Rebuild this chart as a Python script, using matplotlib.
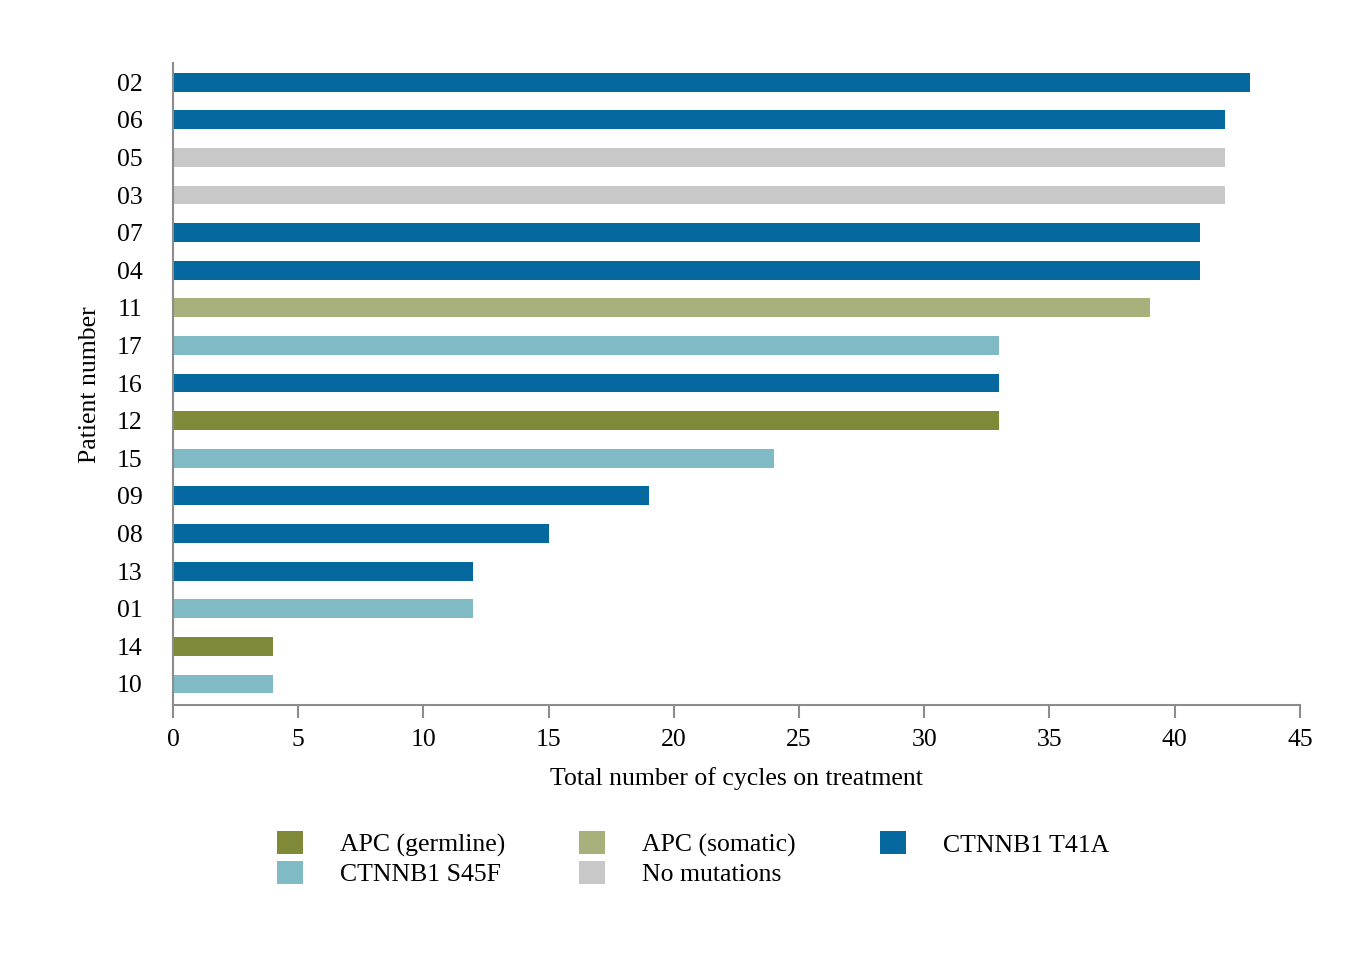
import matplotlib
matplotlib.use("Agg")
import matplotlib.pyplot as plt
from matplotlib.patches import Patch

plt.rcParams['font.family'] = ['Liberation Serif', 'DejaVu Serif']

patients = ["02", "06", "05", "03", "07", "04", "11", "17", "16", "12",
            "15", "09", "08", "13", "01", "14", "10"]
cycles = [43, 42, 42, 42, 41, 41, 39, 33, 33, 33, 24, 19, 15, 12, 12, 4, 4]
mutation = ["CTNNB1 T41A", "CTNNB1 T41A", "No mutations", "No mutations",
            "CTNNB1 T41A", "CTNNB1 T41A", "APC (somatic)", "CTNNB1 S45F",
            "CTNNB1 T41A", "APC (germline)", "CTNNB1 S45F", "CTNNB1 T41A",
            "CTNNB1 T41A", "CTNNB1 T41A", "CTNNB1 S45F", "APC (germline)",
            "CTNNB1 S45F"]

colors = {
    "APC (germline)": "#7F8937",
    "APC (somatic)": "#A8B17B",
    "CTNNB1 T41A": "#05689F",
    "CTNNB1 S45F": "#80BBC5",
    "No mutations": "#C8C8C8",
}
legend_columns = [["APC (germline)", "CTNNB1 S45F"],
                  ["APC (somatic)", "No mutations"],
                  ["CTNNB1 T41A"]]

FS = 18.5

fig = plt.figure(figsize=(13.64, 9.6), dpi=100)
ax = fig.add_axes([0.1268, 0.2656, 0.953 - 0.1268, 0.934 - 0.2656])

n = len(patients)
ypos = [n - 1 - i for i in range(n)]
ax.barh(ypos, cycles, height=0.5, color=[colors[m] for m in mutation])

ax.set_xlim(0, 45)
ax.set_ylim(-0.56, n - 1 + 0.5)
ax.set_xticks(range(0, 46, 5))
ax.set_yticks(ypos)
ax.set_yticklabels(patients)

for s in ["top", "right"]:
    ax.spines[s].set_visible(False)
for s in ["left", "bottom"]:
    ax.spines[s].set_color("#8C8C8C")
    ax.spines[s].set_linewidth(1.5)
ax.tick_params(axis="x", direction="out", length=9, width=1.5, color="#8C8C8C",
               labelsize=FS, pad=8)
ax.tick_params(axis="y", length=0, labelsize=FS, pad=22)

ax.set_xlabel("Total number of cycles on treatment", fontsize=FS, labelpad=12)
ax.set_ylabel("Patient number", fontsize=FS, labelpad=11)

col_x = [0.2031, 0.4245, 0.6452]
for cx, col in zip(col_x, legend_columns):
    handles = [Patch(facecolor=colors[k], edgecolor="none", label=k) for k in col]
    fig.legend(handles=handles, loc="upper left",
               bbox_to_anchor=(cx, 0.134), frameon=False, fontsize=FS,
               handlelength=1.0, handleheight=1.0, handletextpad=1.45,
               labelspacing=0.15, borderpad=0, borderaxespad=0)

fig.savefig("out.png", dpi=100)
